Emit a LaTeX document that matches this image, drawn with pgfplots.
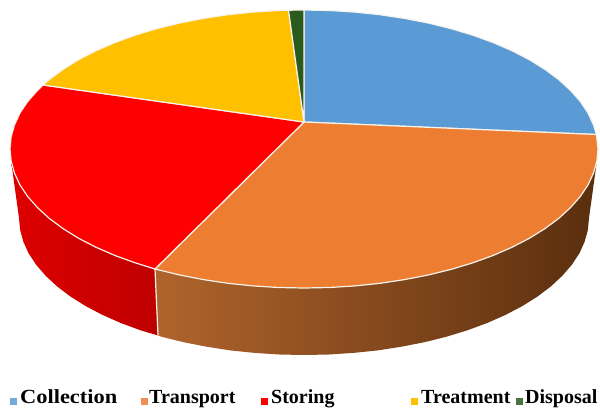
\documentclass[border=0pt]{standalone}
\usepackage{pgfplots}
\pgfplotsset{compat=1.18}
\usepackage{fontspec}
\setmainfont{Liberation Serif}
\definecolor{cBlue}{HTML}{5B9BD5}
\definecolor{cOrange}{HTML}{ED7D31}
\definecolor{cRed}{HTML}{FF0000}
\definecolor{cYellow}{HTML}{FFC000}
\definecolor{cGreen}{HTML}{2A5A1E}
\definecolor{rimW}{HTML}{F6F3EA}
\definecolor{sideOa}{RGB}{176,100,44}
\definecolor{sideOb}{RGB}{130,68,24}
\definecolor{sideOc}{RGB}{90,46,14}
\definecolor{sideRa}{RGB}{222,0,0}
\definecolor{sideRb}{RGB}{190,0,0}
\colorlet{swBlue}{cBlue!85!white}
\colorlet{swOrange}{cOrange!85!white}
\colorlet{swGreen}{cGreen!85!white}
\begin{document}
\begin{tikzpicture}
\path[use as bounding box] (0,0) rectangle (600pt,408pt);
\begin{axis}[
  at={(0,0)}, anchor=south west,
  scale only axis, width=600pt, height=408pt,
  xmin=0, xmax=600, ymin=0, ymax=408, y dir=reverse,
  axis lines=none, ticks=none, enlargelimits=false, clip=false,
]
% side walls
\addplot[draw=none, left color=sideOa, middle color=sideOb, right color=sideOc] coordinates {
(155,269)(158,335.5)(161.5,336.7)(183.6,342.2)(206.6,346.7)(230.2,350.4)(254.6,352.9)(279.2,354.5)(304,355)
(328.8,354.5)(353.4,352.9)(377.8,350.4)(401.4,346.7)(424.4,342.2)(446.5,336.7)(467.4,330.3)(487.2,323)(505.5,314.9)
(522.3,306.1)(537.4,296.6)(550.8,286.5)(562.2,275.9)(571.8,264.8)(579.3,253.5)(584.6,241.8)(587.9,229.9)(589,218)(596.9,161.1)
} -- cycle;
\addplot[draw=none, left color=sideRa, right color=sideRb] coordinates {
(155,269)(158,335.5)(140.6,330.3)(120.8,323)(102.5,314.9)(85.7,306.1)(70.6,296.6)(57.2,286.5)(45.8,275.9)(36.2,264.8)
(28.7,253.5)(23.4,241.8)(20.1,229.9)(19,218)(11.1,161.1)
} -- cycle;
\addplot[rimW, line width=1.2pt] coordinates {(155,269)(158,335.5)};
% top faces
\addplot[fill=cBlue, draw=rimW, line width=1.2pt, line join=round] coordinates {
(304,122)(304,10)(329.6,10.5)(355,12.1)(380.1,14.7)(404.5,18.4)(428.2,23)(451,28.6)(472.6,35.1)(493,42.5)(511.9,50.7)
(529.2,59.6)(544.8,69.3)(558.6,79.5)(570.4,90.3)(580.3,101.5)(588,113)(593.5,124.9)(596.4,134.5)
} -- cycle;
\addplot[fill=cOrange, draw=rimW, line width=1.2pt, line join=round] coordinates {
(304,122)(596.4,134.5)(598,149)(596.9,161.1)(593.5,173.1)(588,185)(580.3,196.5)(570.4,207.7)(558.6,218.5)(544.8,228.7)
(529.2,238.4)(511.9,247.3)(493,255.5)(472.6,262.9)(451,269.4)(428.2,275)(404.5,279.6)(380.1,283.3)(355,285.9)(329.6,287.5)
(304,288)(278.4,287.5)(253,285.9)(227.9,283.3)(203.5,279.6)(179.8,275)(155,269)
} -- cycle;
\addplot[fill=cRed, draw=rimW, line width=1.2pt, line join=round] coordinates {
(304,122)(155,269)(135.4,262.9)(115,255.5)(96.1,247.3)(78.8,238.4)(63.2,228.7)(49.4,218.5)(37.6,207.7)(27.7,196.5)(20,185)
(14.5,173.1)(11.1,161.1)(10,149)(11.1,136.9)(14.5,124.9)(20,113)(27.7,101.5)(37.6,90.3)(43,85)
} -- cycle;
\addplot[fill=cYellow, draw=rimW, line width=1.2pt, line join=round] coordinates {
(304,122)(43,85)(49.4,79.5)(63.2,69.3)(78.8,59.6)(96.1,50.7)(115,42.5)(135.4,35.1)(157,28.6)(179.8,23)(203.5,18.4)(227.9,14.7)
(253,12.1)(278.4,10.5)(288.5,10.2)
} -- cycle;
\addplot[fill=cGreen, draw=rimW, line width=1.2pt, line join=round] coordinates {
(304,122)(288.5,10.2)(304,10)
} -- cycle;
% legend swatches
\addplot[only marks, mark=square*, mark size=3pt, color=swBlue] coordinates {(13,401)};
\addplot[only marks, mark=square*, mark size=3pt, color=swOrange] coordinates {(144,401)};
\addplot[only marks, mark=square*, mark size=3pt, color=cRed] coordinates {(264.5,401)};
\addplot[only marks, mark=square*, mark size=3pt, color=cYellow] coordinates {(414.5,401)};
\addplot[only marks, mark=square*, mark size=3pt, color=swGreen] coordinates {(519.5,401)};
\tikzset{lg/.style={anchor=base west, inner sep=0pt, font=\fontsize{20}{20}\selectfont\bfseries}}
\node[lg] at (axis cs:20,403.3) {\scalebox{1.12}[1]{Collection}};
\node[lg] at (axis cs:149,403.3) {Transport};
\node[lg] at (axis cs:271,403.3) {Storing};
\node[lg] at (axis cs:421,403.3) {Treatment};
\node[lg] at (axis cs:525,403.3) {Disposal};
\end{axis}
\end{tikzpicture}
\end{document}
